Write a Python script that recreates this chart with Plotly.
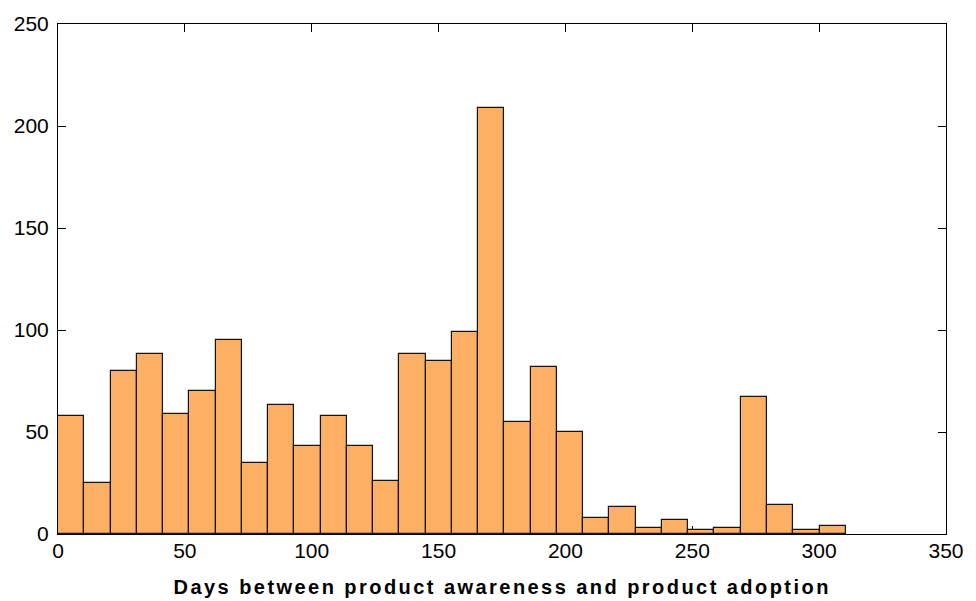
import numpy as np
import plotly.graph_objects as go

# Histogram of days between product awareness and product adoption (30 equal bins)
bin_start = 0.0
bin_width = 10.35
counts = [58, 25, 80, 88, 59, 70, 95, 35, 63, 43,
          58, 43, 26, 88, 85, 99, 209, 55, 82, 50,
          8, 13, 3, 7, 2, 3, 67, 14, 2, 4]

x_ticks = [0, 50, 100, 150, 200, 250, 300, 350]
y_ticks = [0, 50, 100, 150, 200, 250]
x_title = "Days between product awareness and product adoption"

left_edges = bin_start + bin_width * np.arange(len(counts))

fig = go.Figure(
    go.Bar(
        x=left_edges,
        y=counts,
        width=bin_width,
        offset=0,
        marker=dict(color="rgb(253,176,99)", line=dict(color="rgb(20,20,20)", width=1.2)),
        hoverinfo="x+y",
    )
)

font_family = "Liberation Sans, Arial, sans-serif"
axis_common = dict(
    showline=True,
    linecolor="black",
    linewidth=1,
    mirror="ticks",
    ticks="inside",
    ticklen=8,
    tickwidth=1,
    tickcolor="black",
    showgrid=False,
    zeroline=False,
    layer="below traces",
    tickfont=dict(family=font_family, size=21, color="black"),
)

fig.update_layout(
    width=976,
    height=601,
    margin=dict(l=58, r=26, t=19, b=67),
    paper_bgcolor="white",
    plot_bgcolor="white",
    showlegend=False,
    bargap=0,
    xaxis=dict(range=[0, 350], tickvals=x_ticks, ticklabelstandoff=-2, **axis_common),
    yaxis=dict(range=[0, 250], tickvals=y_ticks, ticklabelstandoff=4, **axis_common),
    annotations=[
        dict(
            text=x_title,
            xref="paper", yref="paper",
            x=0.5, y=-0.104,
            xanchor="center", yanchor="middle",
            showarrow=False,
            font=dict(family=font_family, size=20, color="black", weight="bold"),
        )
    ],
)

fig.write_html(
    "out.html",
    post_script=(
        "var t = document.querySelector('.annotation-text');"
        "if (t) { t.style.letterSpacing = '2.45px'; }"
    ),
)
